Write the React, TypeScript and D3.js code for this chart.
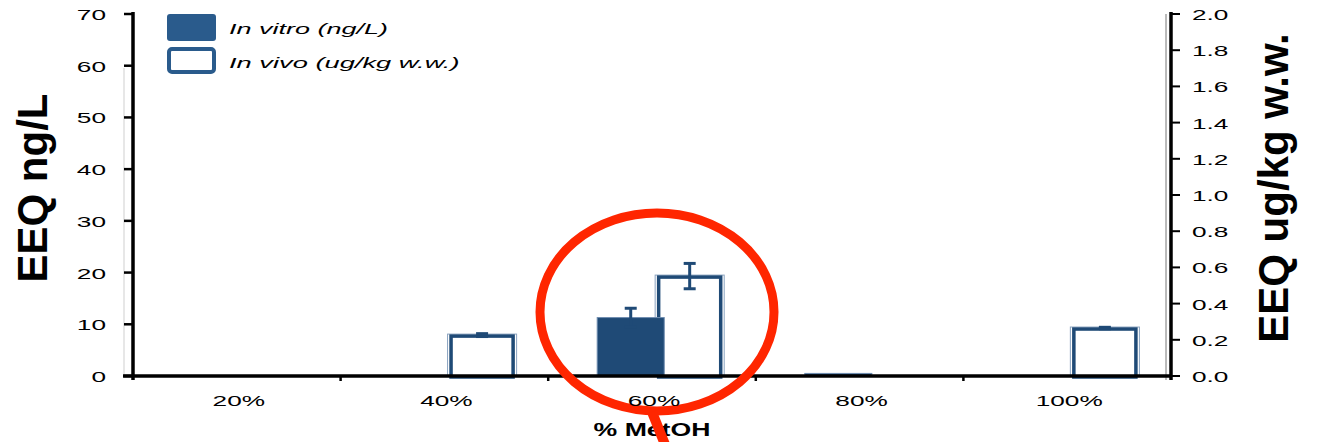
import React from "react";
import * as d3 from "d3";

const categories = ["20%", "40%", "60%", "80%", "100%"];
const inVitro = [0, 0, 11.3, 0.5, 0];
const inVitroErr = [0, 0, 1.8, 0, 0];
const inVivo = [0, 0.226, 0.552, 0, 0.265];
const inVivoErr = [0, 0.008, 0.07, 0, 0.004];
const leftTicks = [0, 10, 20, 30, 40, 50, 60, 70];
const rightTicks = [0, 0.2, 0.4, 0.6, 0.8, 1.0, 1.2, 1.4, 1.6, 1.8, 2.0];
const seriesNames = ["In vitro (ng/L)", "In vivo (ug/kg w.w.)"];

const W = 1325, H = 442;
const L = 133, R = 1171, T = 14, B = 376;
const BLUE = "#1f4a76";
const FONT = "'Liberation Sans', Arial, sans-serif";

export default function App() {
  const x0 = d3.scaleBand<string>().domain(categories).range([L, R]).padding(0);
  const bw = x0.bandwidth();
  const y = d3.scaleLinear().domain([0, 70]).range([B, T]);
  const yR = d3.scaleLinear().domain([0, 2]).range([B, T]);
  const barW = bw * 0.323;
  const vitroOff = bw * 0.236;
  const vivoOff = bw * 0.52;
  const sx = 1.75;

  const errBar = (key: string, cx: number, y1: number, y2: number) => (
    <g key={key} stroke={BLUE} strokeWidth={3}>
      <line x1={cx} x2={cx} y1={y1} y2={y2} />
      <line x1={cx - 6} x2={cx + 6} y1={y1} y2={y1} />
      <line x1={cx - 6} x2={cx + 6} y1={y2} y2={y2} />
    </g>
  );

  return (
    <svg width={W} height={H} style={{ position: "absolute", left: 0, top: 0, background: "#fff" }} fontFamily={FONT}>
      {/* faint guide lines */}
      <line x1={124} x2={124} y1={68} y2={B} stroke="#cfcfcf" strokeWidth={1} />
      <line x1={R - 5} x2={R - 5} y1={T} y2={B + 4} stroke="#777" strokeWidth={1} />

      {/* in vivo bars */}
      {categories.map((c, i) => {
        const v = inVivo[i];
        if (v <= 0) return null;
        const x = (x0(c) as number) + vivoOff;
        const top = yR(v);
        return (
          <g key={"vv" + c}>
            <rect x={x - 1} y={top - 1} width={barW + 2} height={B - top + 1} fill="none" stroke="#8aa3c0" strokeWidth={1} />
            <rect x={x + 2.5} y={top + 1} width={barW - 5} height={B - top} fill="#fff" stroke={BLUE} strokeWidth={3.5} />
          </g>
        );
      })}
      {/* in vitro bars */}
      {categories.map((c, i) => {
        const v = inVitro[i];
        if (v <= 0) return null;
        const x = (x0(c) as number) + vitroOff;
        const top = y(v);
        return <rect key={"vt" + c} x={x} y={top} width={barW} height={B - top} fill={BLUE} stroke="#6f8db0" strokeWidth={1} />;
      })}
      {/* error bars */}
      {categories.map((c, i) => {
        const e = inVitroErr[i];
        if (e <= 0) return null;
        const cx = (x0(c) as number) + vitroOff + barW / 2;
        return errBar("evt" + c, cx, y(inVitro[i] + e), y(inVitro[i] - e));
      })}
      {categories.map((c, i) => {
        const e = inVivoErr[i];
        if (e <= 0) return null;
        const cx = (x0(c) as number) + vivoOff + barW / 2;
        return errBar("evv" + c, cx, yR(inVivo[i] + e), yR(inVivo[i] - e));
      })}

      {/* axes */}
      <line x1={L} x2={L} y1={T - 2} y2={B + 4} stroke="#000" strokeWidth={3.5} />
      <line x1={R} x2={R} y1={T - 2} y2={B + 4} stroke="#000" strokeWidth={3.5} />
      <line x1={L - 10} x2={R} y1={B} y2={B} stroke="#000" strokeWidth={3.5} />
      {leftTicks.map((t) => (
        <g key={"lt" + t}>
          <line x1={L - 9} x2={L} y1={y(t)} y2={y(t)} stroke="#000" strokeWidth={2.5} />
          <text transform={`translate(106,${y(t) + 6}) scale(${sx},1)`} textAnchor="end" fontSize={15} fill="#000">
            {t}
          </text>
        </g>
      ))}
      {rightTicks.map((t) => (
        <g key={"rt" + t}>
          <line x1={R} x2={R + 9} y1={yR(t)} y2={yR(t)} stroke="#000" strokeWidth={2} />
          <text transform={`translate(1192,${yR(t) + 6}) scale(${sx},1)`} textAnchor="start" fontSize={15} fill="#000">
            {t.toFixed(1)}
          </text>
        </g>
      ))}
      {categories.slice(1).map((c) => (
        <line key={"xt" + c} x1={x0(c) as number} x2={x0(c) as number} y1={B} y2={B + 5} stroke="#000" strokeWidth={2.5} />
      ))}

      {/* axis titles */}
      <text transform={`translate(652,436) scale(1.48,1)`} textAnchor="middle" fontSize={18} fontWeight="bold" fill="#000">
        % MetOH
      </text>
      <text transform={`translate(47,188) rotate(-90)`} textAnchor="middle" fontSize={42} fontWeight="bold" fill="#000">
        EEQ ng/L
      </text>
      <text transform={`translate(1288,188) rotate(-90)`} textAnchor="middle" fontSize={42} fontWeight="bold" fill="#000">
        EEQ ug/kg w.w.
      </text>

      {/* legend */}
      <rect x={167} y={14} width={49} height={27} rx={3} fill="#2a5b8c" />
      <rect x={169} y={49} width={45} height={23} rx={3} fill="#fff" stroke="#2a5b8c" strokeWidth={4} />
      <text transform={`translate(229,34) scale(1.8,1)`} fontSize={15} fontStyle="italic" fill="#000">
        {seriesNames[0]}
      </text>
      <text transform={`translate(229,68) scale(1.82,1)`} fontSize={15} fontStyle="italic" fill="#000">
        {seriesNames[1]}
      </text>

      {/* red highlight circle */}
      <ellipse cx={657} cy={312} rx={117} ry={99} fill="none" stroke="#ff2600" strokeWidth={9} />
      <line x1={652} x2={668} y1={412} y2={452} stroke="#ff2600" strokeWidth={10} />

      {/* category labels */}
      {categories.map((c) => (
        <text key={"xl" + c} transform={`translate(${(x0(c) as number) + bw / 2 + 2},406) scale(${sx},1)`} textAnchor="middle" fontSize={15} fill="#000">
          {c}
        </text>
      ))}
    </svg>
  );
}
